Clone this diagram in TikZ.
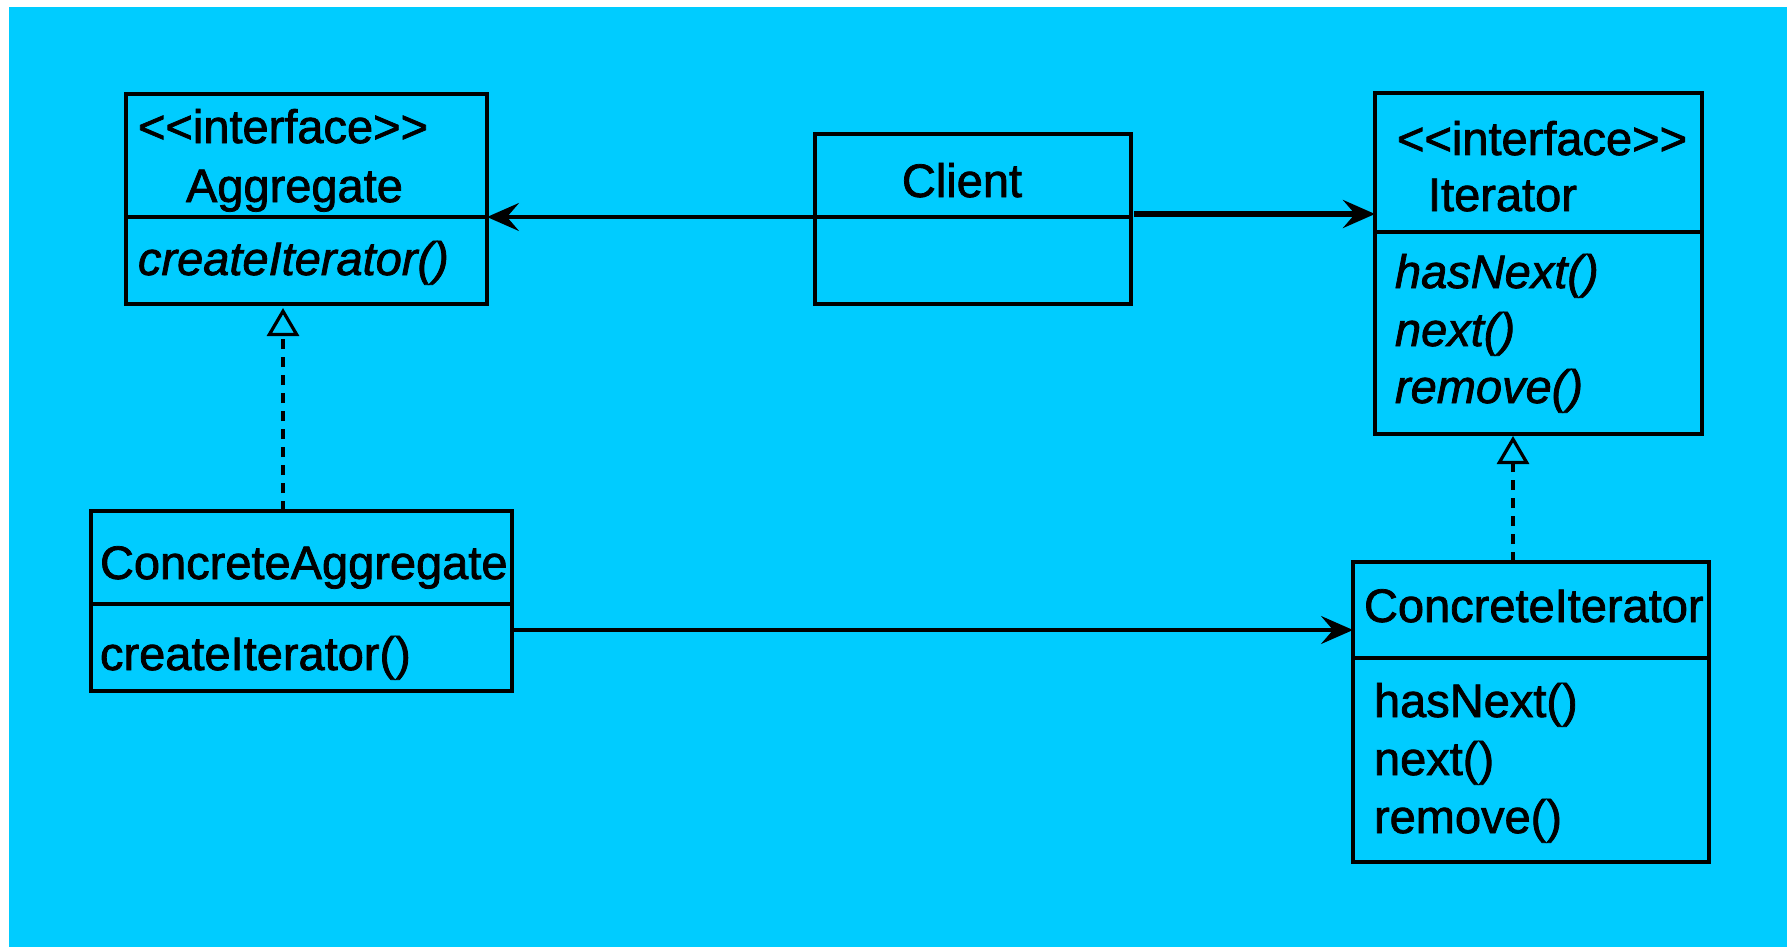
\documentclass[tikz,border=0pt]{standalone}
\usepackage{fontspec}
\setmainfont{Liberation Sans}[FakeBold=1.6,ItalicFeatures={FakeBold=1.6}]
\usetikzlibrary{arrows.meta}
\definecolor{canvas}{HTML}{00CCFF}

\begin{document}
\begin{tikzpicture}[x=0.5pt,y=-0.5pt,
  classbox/.style={draw=black,line width=1.7pt,inner sep=0pt,outer sep=0pt},
  divider/.style={draw=black,line width=1.8pt},
  label/.style={anchor=base west,inner sep=0pt,outer sep=0pt,
    font=\fontsize{23.5}{28}\selectfont},
  oplabel/.style={label,font=\fontsize{23.5}{28}\selectfont\itshape},
  assoc/.style={draw=black,line width=1.6pt,
    -{Stealth[length=16pt,width=14pt,inset=6pt]}},
  realize/.style={draw=black,line width=1.8pt,dash pattern=on 5pt off 4pt,
    -{Triangle[open,length=14pt,width=16pt,line width=1.6pt]}}]

% page and canvas
\fill[white] (0,0) rectangle (1787,947);
\fill[canvas] (9,7) rectangle (1787,947);
\useasboundingbox (0,0) rectangle (1787,947);

% class boxes
\node[classbox,minimum width=180.5pt,minimum height=105pt] (aggregate) at (306.5,199) {};
\node[classbox,minimum width=158pt,minimum height=85pt] (client) at (973,219) {};
\node[classbox,minimum width=163.5pt,minimum height=170.5pt] (iterator) at (1538.5,263.5) {};
\node[classbox,minimum width=210.5pt,minimum height=90pt] (caggregate) at (301.5,601) {};
\node[classbox,minimum width=178pt,minimum height=150pt] (citerator) at (1531,712) {};

% compartment dividers
\draw[divider] (aggregate.west |- 0,217) -- (aggregate.east |- 0,217);
\draw[divider] (client.west |- 0,217) -- (client.east |- 0,217);
\draw[divider] (iterator.west |- 0,232) -- (iterator.east |- 0,232);
\draw[divider] (caggregate.west |- 0,604) -- (caggregate.east |- 0,604);
\draw[divider] (citerator.west |- 0,658) -- (citerator.east |- 0,658);

% Aggregate
\node[label] (aggst) at (138,143) {<\kern0pt<interface>\kern0pt>};
\node[label] (aggname) at (186,202) {Aggregate};
\node[oplabel] (aggop) at (138,275) {createIterator()};

% Client
\node[label,anchor=base] (clientname) at (962,197) {Client};

% Iterator
\node[label] (itst) at (1397,155) {<\kern0pt<interface>\kern0pt>};
\node[label] (itname) at (1428,211) {Iterator};
\node[oplabel] (itop1) at (1395,288) {hasNext()};
\node[oplabel] (itop2) at (1395,346) {next()};
\node[oplabel] (itop3) at (1395,403) {remove()};

% ConcreteAggregate
\node[label] (caname) at (100,579) {ConcreteAggregate};
\node[label] (caop) at (100,670) {createIterator()};

% ConcreteIterator
\node[label] (ciname) at (1364,622) {ConcreteIterator};
\node[label] (ciop1) at (1374,717) {hasNext()};
\node[label] (ciop2) at (1374,775) {next()};
\node[label] (ciop3) at (1374,833) {remove()};

% associations
\draw[assoc] (client.west |- 0,217) -- (aggregate.east |- 0,217);
\draw[assoc,line width=2.6pt] ([xshift=1.5pt]client.east |- 0,214) -- (iterator.west |- 0,214);
\draw[assoc] (caggregate.east |- 0,630) -- (citerator.west |- 0,630);

% realizations
\coordinate (aggx) at (283,0);
\coordinate (itx) at (1513,0);
\draw[realize] (caggregate.north -| aggx) -- ([yshift=-2pt]aggregate.south -| aggx);
\draw[realize] (citerator.north -| itx) -- ([yshift=-1pt]iterator.south -| itx);
\end{tikzpicture}
\end{document}
